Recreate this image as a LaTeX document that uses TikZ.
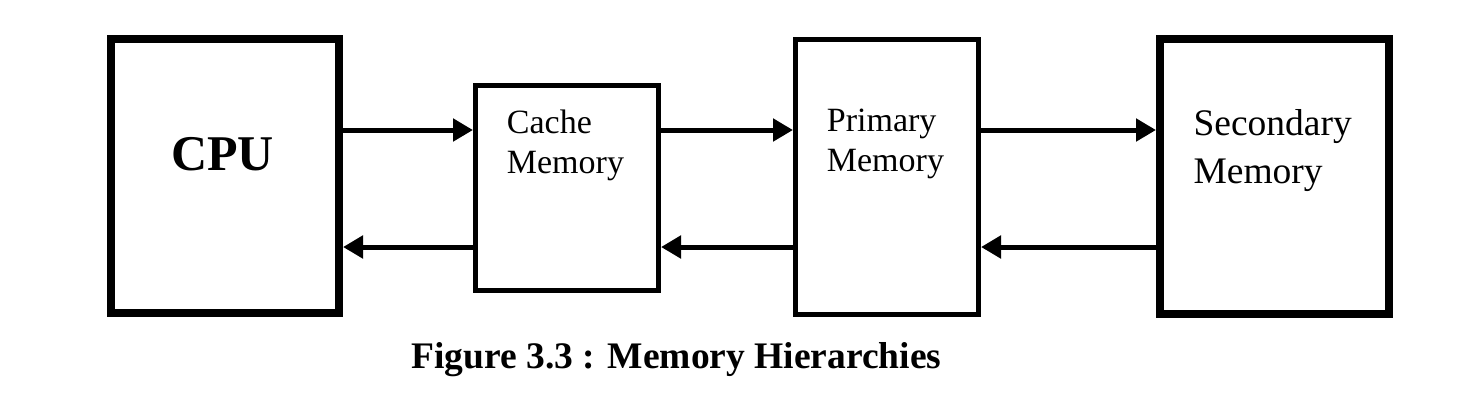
\documentclass[tikz,border=0pt]{standalone}
\usepackage{fontspec}
\setmainfont{Liberation Serif}
\usetikzlibrary{arrows.meta}
\begin{document}
\begin{tikzpicture}[x=1pt,y=-1pt,
  thickbox/.style={draw,line width=8pt,rectangle,inner sep=0pt},
  thinbox/.style={draw,line width=5pt,rectangle,inner sep=0pt},
  lbl/.style={inner sep=0pt,align=left,anchor=base west},
  arr/.style={line width=5pt,-{Triangle[length=20pt,width=22pt]}}]
\useasboundingbox (0,0) rectangle (1474,416);
\node[thickbox,minimum width=228pt,minimum height=274pt] (cpu) at (225,176) {};
\node[thinbox,minimum width=183pt,minimum height=205pt] (cache) at (567,188) {};
\node[thinbox,minimum width=183pt,minimum height=275pt] (prim) at (887,177) {};
\node[thickbox,minimum width=229pt,minimum height=275pt] (sec) at (1274.5,176.5) {};
\node[inner sep=0pt,anchor=base,font=\fontsize{50}{60}\selectfont\bfseries] (cputxt) at (222.5,170) {CPU};
\node[lbl,font=\fontsize{34}{40}\selectfont] (cachetxt) at (506.7,173.3) {Cache\\Memory};
\node[lbl,font=\fontsize{34}{40}\selectfont] (primtxt) at (826.7,171.7) {Primary\\Memory};
\node[lbl,font=\fontsize{37.5}{48}\selectfont] (sectxt) at (1193.3,183.3) {Secondary\\Memory};
\node[inner sep=0pt,anchor=base,font=\fontsize{37.5}{45}\selectfont\bfseries] (cap) at (676.5,368) {Figure 3.3 : Memory Hierarchies};
\coordinate (yt) at (0,130);
\coordinate (yb) at (0,247);
\draw[arr] (cpu.east |- yt) -- (cache.west |- yt);
\draw[arr] (cache.east |- yt) -- (prim.west |- yt);
\draw[arr] (prim.east |- yt) -- (sec.west |- yt);
\draw[arr] (cache.west |- yb) -- (cpu.east |- yb);
\draw[arr] (prim.west |- yb) -- (cache.east |- yb);
\draw[arr] (sec.west |- yb) -- (prim.east |- yb);
\end{tikzpicture}
\end{document}
